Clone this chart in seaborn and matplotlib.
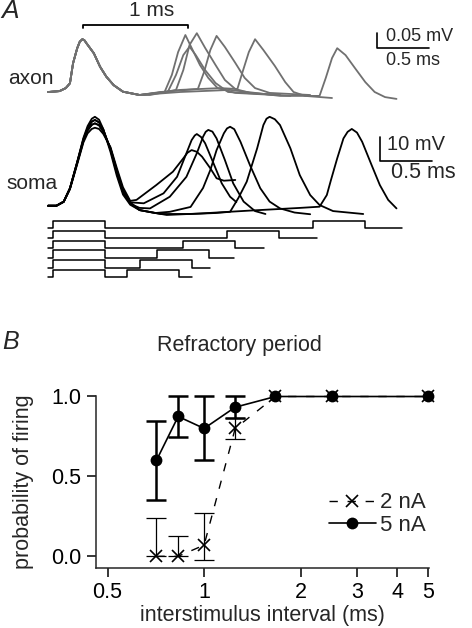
import matplotlib
matplotlib.use("Agg")
import matplotlib.pyplot as plt
from matplotlib.ticker import NullLocator
import numpy as np
import pandas as pd
import seaborn as sns

# ---------------- panel B: refractory period ----------------
isi_ms = [0.71, 0.83, 1.0, 1.25, 1.67, 2.5, 5.0]
p_2na = [0.0, 0.0, 0.07, 0.80, 1.0, 1.0, 1.0]
err_2na_lo = [0.0, 0.0, 0.09, 0.067, 0.0, 0.0, 0.0]
err_2na_hi = [0.24, 0.13, 0.20, 0.067, 0.0, 0.0, 0.0]
p_5na = [0.60, 0.875, 0.80, 0.933, 1.0, 1.0, 1.0]
err_5na = [0.245, 0.13, 0.20, 0.067, 0.0, 0.0, 0.0]
x_ticks = [0.5, 1, 2, 3, 4, 5]
x_ticklabels = ["0.5", "1", "2", "3", "4", "5"]
y_ticks = [0.0, 0.5, 1.0]
y_ticklabels = ["0.0", "0.5", "1.0"]

# ---------------- panel A: example traces (ms / mV) ----------------
stim_isi = [0.71, 0.83, 1.0, 1.25, 1.67, 2.5]
stim_end = [1.33, 1.51, 1.74, 2.03, 2.54, 3.35]
pulse_ms = 0.5

# axon, first spike (same in every sweep)
axon_t0 = [-0.05, 0.06, 0.12, 0.16, 0.19, 0.23, 0.255, 0.28, 0.30, 0.32, 0.39, 0.45,
           0.51, 0.58, 0.67, 0.83]
axon_v0 = [0.0, 0.003, 0.013, 0.029, 0.096, 0.146, 0.168, 0.176, 0.172, 0.162, 0.129,
           0.084, 0.051, 0.023, 0.001, -0.010]
# axon, second spike per sweep
axon_t2 = [
    [1.07, 1.14, 1.20, 1.27, 1.33, 1.41, 1.49, 1.58, 1.75, 2.13],
    [1.10, 1.18, 1.25, 1.31, 1.37, 1.46, 1.56, 1.68, 2.18],
    [0.93, 1.18, 1.25, 1.31, 1.38, 1.46, 1.56, 1.65, 1.75, 1.89, 2.28],
    [1.03, 1.39, 1.45, 1.51, 1.57, 1.65, 1.75, 1.84, 1.94, 2.08, 2.47],
    [1.22, 1.60, 1.77, 1.82, 1.88, 1.94, 2.02, 2.13, 2.23, 2.31, 2.42, 2.68],
    [1.22, 1.70, 2.18, 2.56, 2.62, 2.68, 2.73, 2.81, 2.90, 3.00, 3.09, 3.19, 3.30],
]
axon_v2 = [
    [0.0, 0.057, 0.133, 0.19, 0.147, 0.09, 0.047, 0.013, -0.003, -0.01],
    [0.0, 0.057, 0.123, 0.151, 0.123, 0.073, 0.03, 0.0, -0.01],
    [-0.01, 0.007, 0.073, 0.157, 0.196, 0.147, 0.09, 0.04, 0.01, -0.003, -0.013],
    [0.0, 0.01, 0.067, 0.14, 0.187, 0.15, 0.097, 0.047, 0.013, -0.003, -0.01],
    [0.007, 0.013, 0.01, 0.067, 0.133, 0.176, 0.14, 0.087, 0.033, 0.0, -0.013, -0.02],
    [0.0, 0.007, -0.013, -0.013, 0.047, 0.113, 0.146, 0.123, 0.08, 0.033, 0.0,
     -0.017, -0.023],
]

# soma, first spike per sweep
soma_t0 = [-0.05, 0.03, 0.10, 0.16, 0.23, 0.29, 0.33, 0.37, 0.40, 0.44, 0.48, 0.55,
           0.61, 0.67, 0.74]
soma_v0 = [
    [0.4, 0.4, 2.0, 7.2, 17.5, 26.5, 30.2, 32.0, 32.5, 32.0, 30.0, 24.5, 16.0, 8.0, 2.4],
    [0.4, 0.4, 2.0, 7.4, 18.0, 27.2, 31.4, 33.7, 34.3, 33.5, 31.0, 24.0, 15.0, 7.0, 1.8],
    [0.4, 0.4, 2.1, 7.6, 18.3, 27.8, 32.3, 35.0, 35.7, 34.7, 31.8, 23.5, 14.0, 6.0, 1.2],
    [0.4, 0.4, 2.1, 7.6, 18.5, 28.4, 33.2, 36.2, 37.0, 35.8, 32.0, 22.5, 12.8, 5.0, 0.8],
    [0.4, 0.4, 2.1, 7.6, 18.3, 27.8, 32.3, 35.0, 35.7, 34.7, 31.8, 23.5, 14.0, 6.0, 1.2],
    [0.4, 0.4, 2.0, 7.4, 18.0, 27.2, 31.4, 33.7, 34.3, 33.5, 31.0, 24.0, 15.0, 7.0, 1.8],
]
# soma, second spike per sweep
soma_t2 = [
    [0.80, 0.99, 1.15, 1.25, 1.29, 1.33, 1.38, 1.43, 1.51, 1.57, 1.64, 1.75],
    [0.87, 1.06, 1.19, 1.28, 1.33, 1.36, 1.38, 1.42, 1.46, 1.54, 1.62, 1.70, 1.76],
    [0.83, 0.93, 1.12, 1.28, 1.38, 1.44, 1.465, 1.49, 1.53, 1.57, 1.65, 1.73, 1.83,
     1.94, 2.04],
    [0.83, 0.98, 1.12, 1.32, 1.44, 1.51, 1.57, 1.64, 1.67, 1.70, 1.74, 1.80, 1.89,
     1.99, 2.08, 2.18, 2.32, 2.47],
    [0.83, 1.03, 1.32, 1.56, 1.70, 1.78, 1.86, 1.96, 2.02, 2.05, 2.08, 2.13, 2.18,
     2.28, 2.37, 2.47, 2.56, 2.69, 2.98],
    [0.83, 1.09, 1.41, 1.89, 2.37, 2.56, 2.63, 2.67, 2.73, 2.79, 2.83, 2.87, 2.92,
     2.97, 3.06, 3.14, 3.22, 3.30],
]
soma_v2 = [
    [2.8, 8.9, 14.4, 19.9, 22.2, 23.3, 22.6, 20.6, 15.8, 11.7, 10.7, 11.0],
    [1.4, 5.5, 12.3, 22.0, 27.4, 29.3, 29.9, 28.7, 26.1, 17.9, 9.6, 4.1, 1.9],
    [-0.5, -0.7, 4.1, 12.3, 22.0, 28.8, 30.8, 31.6, 30.9, 28.1, 19.2, 9.6, 2.1,
     -1.8, -3.0],
    [-1.4, -2.6, -2.1, -0.1, 7.7, 15.1, 23.3, 30.2, 32.2, 32.9, 31.9, 26.7, 17.2,
     7.6, 2.1, -0.7, -2.4, -3.1],
    [-1.4, -3.0, -3.0, -2.6, -2.1, 3.6, 10.3, 24.0, 33.6, 36.2, 37.0, 36.0, 33.6,
     24.0, 13.0, 4.8, 0.7, -1.8, -3.0],
    [-1.4, -3.4, -2.8, -1.6, -0.5, 0.0, 4.8, 11.0, 19.9, 28.1, 30.8, 32.0, 30.5,
     26.7, 17.2, 8.9, 2.8, -0.7],
]

# ---------------- style ----------------
sns.set_style("ticks")
plt.rcParams["font.family"] = ["Liberation Sans", "DejaVu Sans"]
plt.rcParams["axes.linewidth"] = 1.1

W, H = 472, 628
fig = plt.figure(figsize=(W / 100, H / 100), dpi=100)


def box(x0, y0, x1, y1):
    # pixel box (top-left origin) -> figure fraction rect
    return [x0 / W, 1 - y1 / H, (x1 - x0) / W, (y1 - y0) / H]


def sweeps(t_lists, v_lists):
    parts = []
    for k, (tt, vv) in enumerate(zip(t_lists, v_lists)):
        parts.append(pd.DataFrame({"t": tt, "v": vv, "sweep": k}))
    return pd.concat(parts, ignore_index=True)


t_lim = (-0.5125, 4.026)

# axon
ax_ax = fig.add_axes(box(0, 0, W, 110))
axon_df = sweeps([axon_t0 + t2 for t2 in axon_t2], [axon_v0 + v2 for v2 in axon_v2])
sns.lineplot(data=axon_df, x="t", y="v", units="sweep", estimator=None, sort=False,
             color="#707070", linewidth=1.3, legend=False, ax=ax_ax)
ax_ax.set_xlim(*t_lim)
ax_ax.set_ylim(-0.06, 0.3067)
ax_ax.axis("off")
# 1 ms bar
ax_ax.plot([0.29, 0.29, 1.30, 1.30], [0.212, 0.223, 0.223, 0.212], color="black", lw=1.3)
ax_ax.text(0.95, 0.272, "1 ms", ha="center", va="center", fontsize=15)
# axon scale bar
ax_ax.plot([3.11, 3.11, 3.61], [0.196, 0.146, 0.146], color="black", lw=1.2)
ax_ax.text(3.20, 0.186, "0.05 mV", ha="left", va="center", fontsize=13)
ax_ax.text(3.20, 0.106, "0.5 ms", ha="left", va="center", fontsize=13)
ax_ax.text(-0.22, 0.046, "axon", ha="center", va="center", fontsize=15)

# soma
ax_so = fig.add_axes(box(0, 100, W, 225))
soma_df = sweeps([soma_t0 + t2 for t2 in soma_t2],
                 [v0 + v2 for v0, v2 in zip(soma_v0, soma_v2)])
sns.lineplot(data=soma_df, x="t", y="v", units="sweep", estimator=None, sort=False,
             color="black", linewidth=1.3, legend=False, ax=ax_so)
ax_so.set_xlim(*t_lim)
ax_so.set_ylim(-7.53, 43.91)
ax_so.axis("off")
ax_so.plot([3.14, 3.14, 3.64], [28.8, 18.8, 18.8], color="black", lw=1.2)
ax_so.text(3.21, 25.8, "10 mV", ha="left", va="center", fontsize=14.5)
ax_so.text(3.25, 14.2, "0.5 ms", ha="left", va="center", fontsize=15.5)
ax_so.text(-0.20, 9.7, "soma", ha="center", va="center", fontsize=15)

# stimulus
ax_st = fig.add_axes(box(0, 210, W, 285))
stim_t, stim_v = [], []
for k, (isi, end) in enumerate(zip(stim_isi, stim_end)):
    off = 1.342 * k
    stim_t.append([-0.05, 0.0, pulse_ms, isi, isi + pulse_ms, end])
    stim_v.append([off, off + 1, off, off + 1, off, off])
stim_df = sweeps(stim_t, stim_v)
sns.lineplot(data=stim_df, x="t", y="v", units="sweep", estimator=None, sort=False,
             color="black", linewidth=1.1, drawstyle="steps-post", legend=False, ax=ax_st)
ax_st.set_xlim(*t_lim)
ax_st.set_ylim(-1.05, 9.22)
ax_st.axis("off")

# ---------------- panel B ----------------
axB = fig.add_axes(box(96, 396.5, 429, 567.7))
axB.set_xscale("log")
x = np.array(isi_ms)
m2 = (np.array(err_2na_hi) + np.array(err_2na_lo)) > 0
axB.errorbar(x[m2], np.array(p_2na)[m2],
             yerr=[np.array(err_2na_lo)[m2], np.array(err_2na_hi)[m2]],
             fmt="none", ecolor="black", elinewidth=0.9, capsize=7, capthick=0.9, zorder=2)
m5 = np.array(err_5na) > 0
axB.errorbar(x[m5], np.array(p_5na)[m5], yerr=np.array(err_5na)[m5],
             fmt="none", ecolor="black", elinewidth=1.8, capsize=7, capthick=1.8, zorder=2)
sns.lineplot(x=isi_ms, y=p_2na, ax=axB, color="black", linewidth=1.0,
             linestyle=(0, (6, 7)), marker="x", markersize=8.5, markeredgewidth=1.2,
             markeredgecolor="black", label="2 nA", zorder=3)
sns.lineplot(x=isi_ms, y=p_5na, ax=axB, color="black", linewidth=1.2,
             marker="o", markersize=8.5, markeredgewidth=0, markeredgecolor="black",
             label="5 nA", zorder=4)
for ln in axB.lines:
    ln.set_clip_on(False)

axB.set_xlim(0.46, 5.03)
axB.set_ylim(-0.0713, 1.0)
axB.set_xticks(x_ticks)
axB.set_xticklabels(x_ticklabels)
axB.xaxis.set_minor_locator(NullLocator())
axB.set_yticks(y_ticks)
axB.set_yticklabels(y_ticklabels)
axB.tick_params(axis="both", direction="out", length=6.5, width=1.1, labelsize=15.5,
                pad=4, colors="black")
sns.despine(ax=axB)
axB.set_xlabel("interstimulus interval (ms)", fontsize=15.5, labelpad=1)
axB.set_ylabel("probability of firing", fontsize=15.5)
axB.yaxis.set_label_coords(-0.185, 0.5)
axB.legend(loc="upper left", bbox_to_anchor=(0.70, 0.44), frameon=False, fontsize=16,
           handlelength=2.1, handletextpad=0.2, labelspacing=0.08, borderpad=0,
           borderaxespad=0)

fig.text(239 / W, 1 - 346 / H, "Refractory period", ha="center", va="center", fontsize=15.5)
fig.text(0.004, 1 - 342 / H, "B", ha="left", va="center", fontsize=18, style="italic")
fig.text(0.002, 1 - 11 / H, "A", ha="left", va="center", fontsize=19, style="italic")

fig.savefig("out.png", dpi=100)
